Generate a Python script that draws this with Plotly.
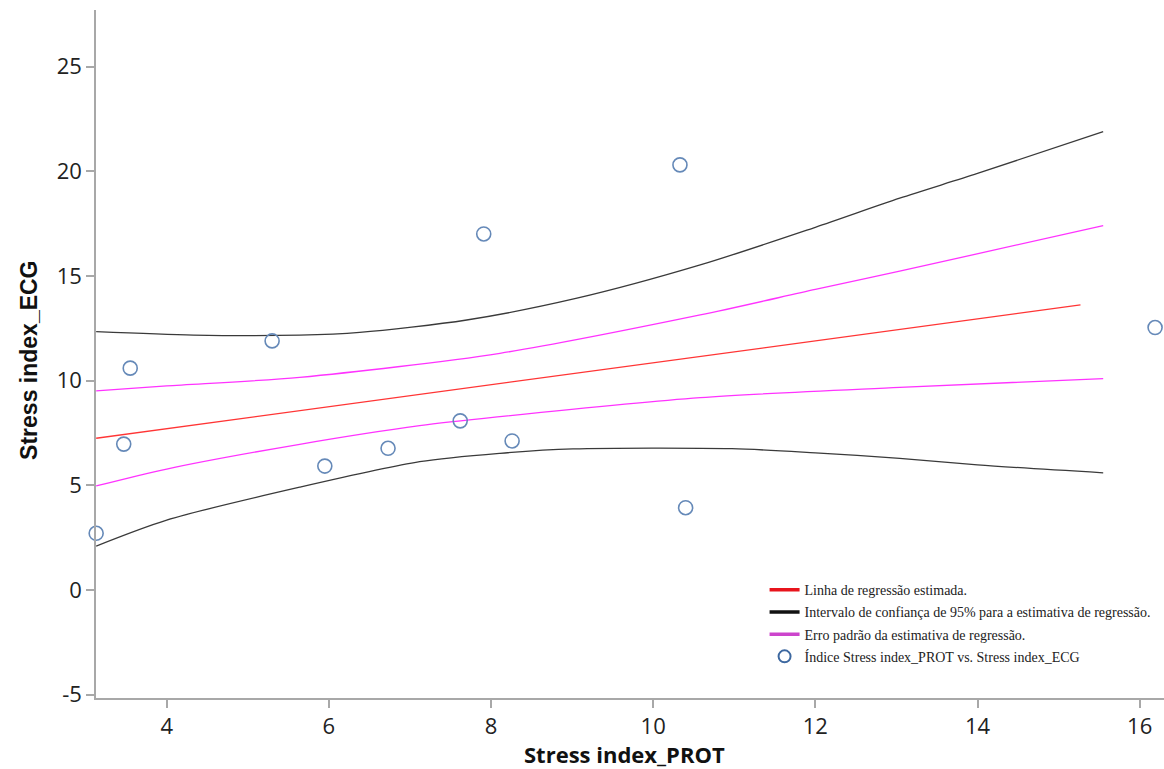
import plotly.graph_objects as go

# Observed points
prot = [3.13, 3.47, 3.55, 5.30, 5.95, 6.73, 7.62, 7.91, 8.26, 10.33, 10.40, 16.19]
ecg = [2.71, 6.97, 10.60, 11.90, 5.92, 6.77, 8.08, 17.01, 7.12, 20.31, 3.93, 12.54]

# Regression line
reg_x = [3.13, 15.27]
reg_y = [7.25, 13.62]

# 95% confidence interval
ci_up_x = [3.13, 4.33, 5.64, 6.38, 7.70, 9.06, 10.58, 12.0, 13.04, 14.0, 15.55]
ci_up_y = [12.34, 12.18, 12.18, 12.31, 12.90, 13.94, 15.53, 17.33, 18.72, 19.90, 21.90]
ci_lo_x = [3.13, 4.0, 5.64, 7.12, 8.11, 9.01, 10.97, 12.0, 13.04, 14.0, 15.55]
ci_lo_y = [2.10, 3.34, 4.91, 6.13, 6.53, 6.74, 6.75, 6.55, 6.29, 5.98, 5.60]

# Standard error of estimate
se_up_x = [3.13, 4.0, 5.64, 8.11, 10.58, 12.0, 13.04, 15.55]
se_up_y = [9.51, 9.75, 10.16, 11.31, 13.14, 14.36, 15.23, 17.41]
se_lo_x = [3.13, 4.0, 5.64, 7.12, 8.11, 10.58, 13.04, 15.55]
se_lo_y = [4.97, 5.78, 6.96, 7.85, 8.28, 9.19, 9.68, 10.10]

x_ticks = [4, 6, 8, 10, 12, 14, 16]
y_ticks = [-5, 0, 5, 10, 15, 20, 25]
y_tick_labels = ["-5", "0", "5", "10", "15", "20", "25"]

legend_names = [
    "Linha de regressão estimada.",
    "Intervalo de confiança de 95% para a estimativa de regressão.",
    "Erro padrão da estimativa de regressão.",
    "Índice Stress index_PROT vs. Stress index_ECG",
]

fig = go.Figure()

black = "#3a3a3a"
mag = "#ff33ff"
red = "#ff3535"

for xs, ys, c in [(ci_up_x, ci_up_y, black), (ci_lo_x, ci_lo_y, black),
                  (se_up_x, se_up_y, mag), (se_lo_x, se_lo_y, mag),
                  (reg_x, reg_y, red)]:
    fig.add_trace(go.Scatter(x=xs, y=ys, mode="lines",
                             line=dict(color=c, width=1.3, shape="spline", smoothing=0.8),
                             showlegend=False, hoverinfo="skip"))

fig.add_trace(go.Scatter(x=prot, y=ecg, mode="markers",
                         marker=dict(symbol="circle-open", size=14, color="#6589b8",
                                     line=dict(width=1.6, color="#6589b8")),
                         showlegend=False, cliponaxis=False))

# Legend entries
leg_styles = [("lines", "#e8141c"), ("lines", "#111111"), ("lines", "#cc44cc"), ("markers", "#3d68a0")]
for i, (name, (m, c)) in enumerate(zip(legend_names, leg_styles)):
    if m == "lines":
        fig.add_trace(go.Scatter(x=[None], y=[None], mode="lines", name=name,
                                 line=dict(color=c, width=3.5), legendgroup=str(i)))
    else:
        fig.add_trace(go.Scatter(x=[None], y=[None], mode="markers", name=name,
                                 marker=dict(symbol="circle-open", size=12, color=c,
                                             line=dict(width=2, color=c)),
                                 legendgroup=str(i)))

axis_common = dict(showline=True, linecolor="#a8a8a8", linewidth=1.5, ticks="outside",
                   ticklen=8, tickcolor="#a8a8a8", tickwidth=1.5, showgrid=False, zeroline=False,
                   tickfont=dict(family="Open Sans", size=22, color="#222222"))

fig.update_layout(
    width=1164, height=769,
    margin=dict(l=96, r=0, t=10, b=71),
    paper_bgcolor="white", plot_bgcolor="white",
    xaxis=dict(range=[3.128, 16.30], tickvals=x_ticks, **axis_common),
    yaxis=dict(range=[-5.16, 27.71], tickvals=y_ticks, ticktext=y_tick_labels, **axis_common),
    legend=dict(x=0.626, y=0.18, xanchor="left", yanchor="top",
                font=dict(family="Liberation Serif", size=14, color="#222222"),
                tracegroupgap=1, bgcolor="rgba(0,0,0,0)"),
    annotations=[
        dict(text="<b>Stress index_PROT</b>", xref="paper", yref="paper", x=0.495, y=-0.081,
             xanchor="center", yanchor="middle", showarrow=False,
             font=dict(family="Open Sans", size=22, color="#111111")),
        dict(text="<b>Stress index_ECG</b>", xref="paper", yref="paper", x=-0.063, y=0.491,
             xanchor="center", yanchor="middle", showarrow=False, textangle=-90,
             font=dict(family="Liberation Sans", size=23, color="#111111")),
    ],
)

fig.write_html("out.html")
